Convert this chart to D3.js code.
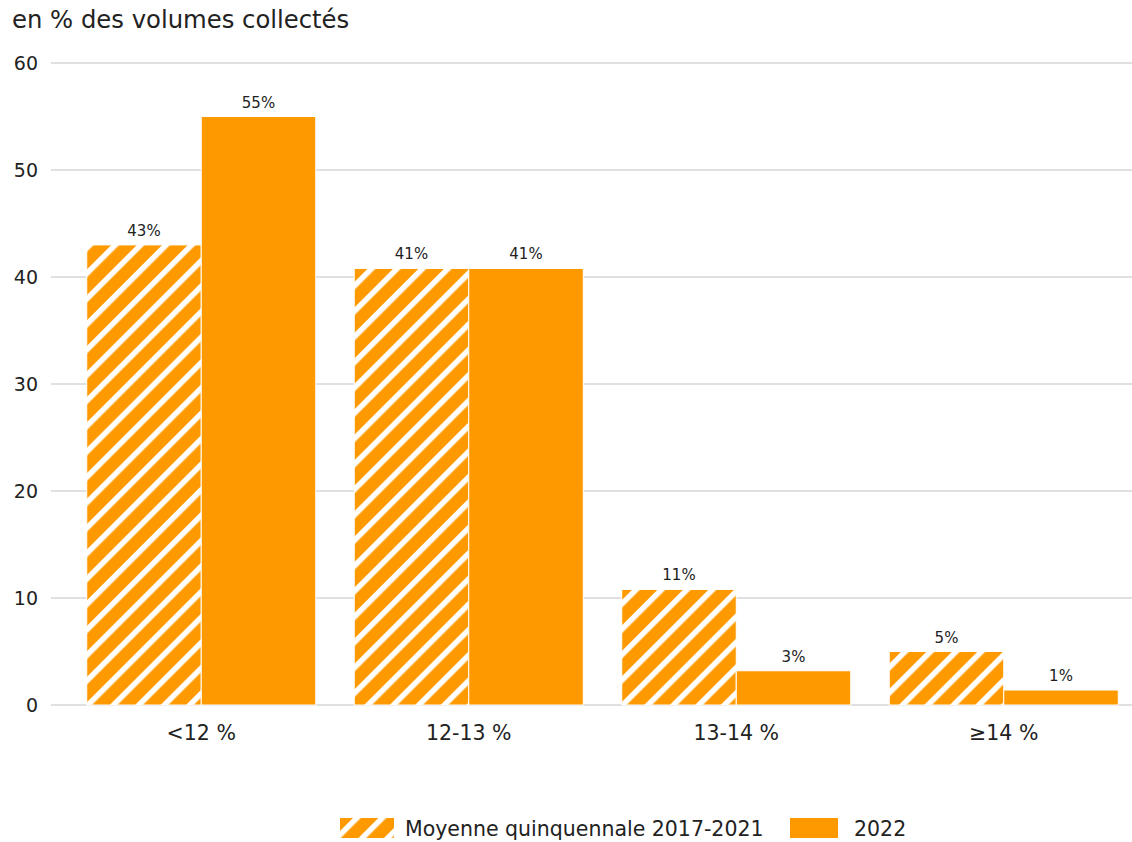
<!DOCTYPE html>
<html>
<head>
<meta charset="utf-8">
<script src="https://cdn.jsdelivr.net/npm/d3@7"></script>
<style>
  body { margin: 0; background: #fff; }
  svg { display: block; font-family: "DejaVu Sans", sans-serif; }
</style>
</head>
<body>
<svg width="1132" height="842"></svg>
<script>
// categories and series
let categories = ["<12 %", "12-13 %", "13-14 %", "≥14 %"];
let seriesNames = ["Moyenne quinquennale 2017-2021", "2022"];
let moyenne = [43, 40.8, 10.8, 5];
let annee2022 = [55, 40.8, 3.2, 1.4];
let moyenneLabels = ["43%", "41%", "11%", "5%"];
let labels2022 = ["55%", "41%", "3%", "1%"];
let yTicks = [0, 10, 20, 30, 40, 50, 60];

var orange = "#ff9900";

var svg = d3.select("svg");

var defs = svg.append("defs");
var pat = defs.append("pattern")
    .attr("id", "hatch")
    .attr("patternUnits", "userSpaceOnUse")
    .attr("width", 18)
    .attr("height", 18)
    .attr("patternTransform", "rotate(45)");
pat.append("rect").attr("width", 18).attr("height", 18).attr("fill", orange);
pat.append("rect").attr("x", 0).attr("width", 5.5).attr("height", 18).attr("fill", "#fff");

var x = d3.scaleBand().domain(categories).range([67.5, 1137.5]).paddingInner(0).paddingOuter(0);
var inner = d3.scaleBand().domain([0, 1]).range([0, x.bandwidth()]).paddingInner(0).paddingOuter(0.168);
var y = d3.scaleLinear().domain([0, 60]).range([705, 63]);

// title
svg.append("text")
    .attr("x", 12)
    .attr("y", 28)
    .attr("font-size", "24.3px")
    .attr("fill", "#222")
    .text("en % des volumes collectés");

// grid + y labels
svg.append("g").selectAll("line")
    .data(yTicks)
    .enter().append("line")
    .attr("x1", 51).attr("x2", 1132)
    .attr("y1", function (d) { return y(d); })
    .attr("y2", function (d) { return y(d); })
    .attr("stroke", "#e0e0e0")
    .attr("stroke-width", 2);

svg.append("g").selectAll("text")
    .data(yTicks)
    .enter().append("text")
    .attr("x", 38)
    .attr("y", function (d) { return y(d); })
    .attr("dy", "0.35em")
    .attr("text-anchor", "end")
    .attr("font-size", "19px")
    .attr("fill", "#222")
    .text(function (d) { return d; });

// bars
var data = categories.map(function (c, i) {
    return [
        { cat: c, s: 0, value: moyenne[i], label: moyenneLabels[i] },
        { cat: c, s: 1, value: annee2022[i], label: labels2022[i] }
    ];
}).flat();

var g = svg.append("g");
g.selectAll(".bar")
    .data(data)
    .enter().append("rect")
    .attr("class", "bar")
    .attr("x", function (d) { return x(d.cat) + inner(d.s); })
    .attr("y", function (d) { return y(d.value); })
    .attr("width", inner.bandwidth())
    .attr("height", function (d) { return y(0) - y(d.value); })
    .attr("fill", function (d) { return d.s === 0 ? "url(#hatch)" : orange; })
    .attr("stroke", "#fff")
    .attr("stroke-width", 1);

g.selectAll(".lbl")
    .data(data)
    .enter().append("text")
    .attr("class", "lbl")
    .attr("x", function (d) { return x(d.cat) + inner(d.s) + inner.bandwidth() / 2; })
    .attr("y", function (d) { return y(d.value) - 9; })
    .attr("text-anchor", "middle")
    .attr("font-size", "15px")
    .attr("fill", "#222")
    .text(function (d) { return d.label; });

// category labels
svg.append("g").selectAll("text")
    .data(categories)
    .enter().append("text")
    .attr("x", function (d) { return x(d) + x.bandwidth() / 2; })
    .attr("y", 740)
    .attr("text-anchor", "middle")
    .attr("font-size", "20.5px")
    .attr("fill", "#222")
    .text(function (d) { return d; });

// legend
var leg = svg.append("g");
leg.append("rect").attr("x", 340).attr("y", 818).attr("width", 54).attr("height", 20).attr("fill", "url(#hatch)");
leg.append("text").attr("x", 405).attr("y", 836).attr("font-size", "20.5px").attr("fill", "#222").text(seriesNames[0]);
leg.append("rect").attr("x", 790).attr("y", 818).attr("width", 48).attr("height", 20).attr("fill", orange);
leg.append("text").attr("x", 854).attr("y", 836).attr("font-size", "20.5px").attr("fill", "#222").text(seriesNames[1]);
</script>
</body>
</html>
